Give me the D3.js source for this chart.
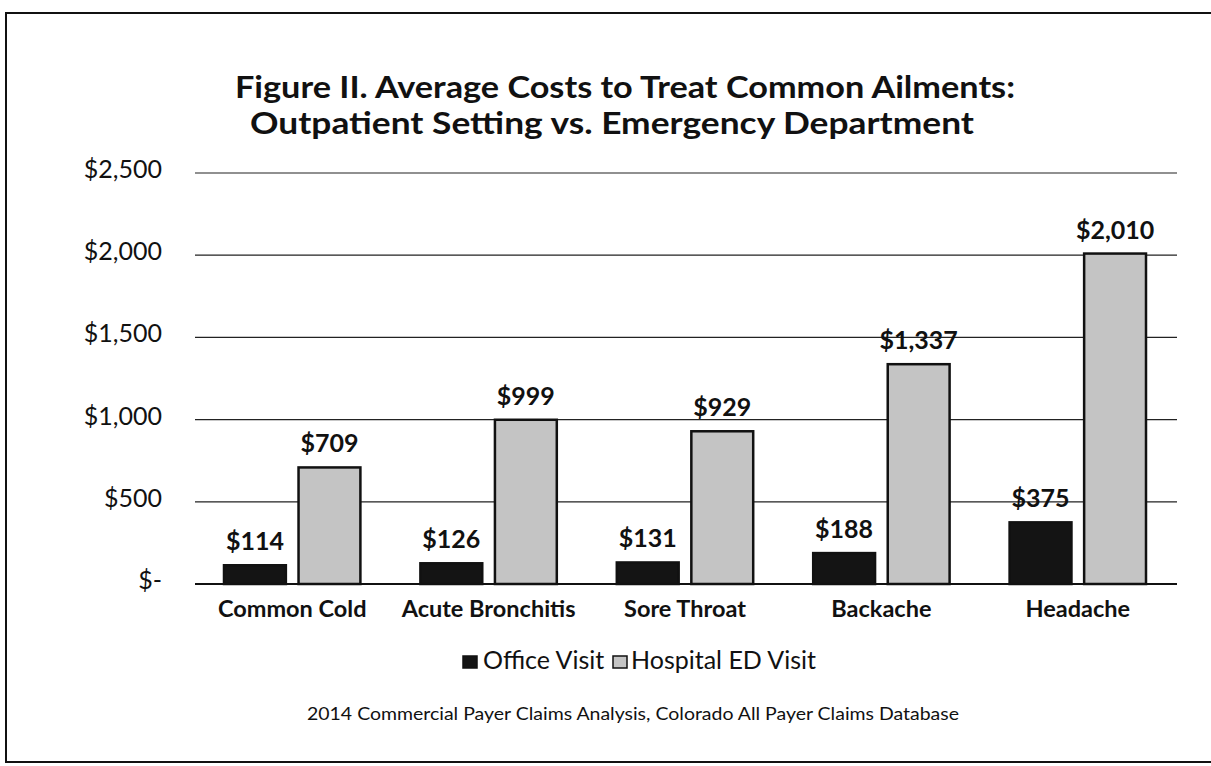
<!DOCTYPE html>
<html>
<head>
<meta charset="utf-8">
<script src="https://cdn.jsdelivr.net/npm/d3@7"></script>
<style>
  body { margin: 0; background: #fff; }
  svg { font-family: Lato, "Open Sans", sans-serif; }
</style>
</head>
<body>
<div id="chart"></div>
<script>
const categories = ['Common Cold', 'Acute Bronchitis', 'Sore Throat', 'Backache', 'Headache']
const officeVisit = [114, 126, 131, 188, 375]
const hospitalED = [709, 999, 929, 1337, 2010]
const seriesNames = ['Office Visit', 'Hospital ED Visit']
const yTicks = [0, 500, 1000, 1500, 2000, 2500]

const width = 1211
const height = 766

const rows = categories.map((c, i) => ({ cat: c, values: [officeVisit[i], hospitalED[i]] }))

const xScale = d3.scaleBand().domain(categories).range([194, 1176]).paddingInner(0).paddingOuter(0)
const xInner = d3.scaleBand().domain(seriesNames).range([30, xScale.bandwidth() - 30]).paddingInner(0.17)
const yScale = d3.scaleLinear().domain([0, 2500]).range([584, 173])

const fills = ['#141414', '#c4c4c4']

const svg = d3.select('#chart')
  .append('svg')
  .attr('width', width)
  .attr('height', height)

// border around the figure
svg.append('rect')
  .attr('x', 6).attr('y', 13)
  .attr('width', width + 10).attr('height', 749)
  .attr('fill', 'none')
  .attr('stroke', '#111')
  .attr('stroke-width', 2)

// title
const title = svg.append('text')
  .attr('text-anchor', 'middle')
  .style('font-size', '30px')
  .style('font-weight', 'bold')
  .attr('fill', '#111')
title.append('tspan').attr('x', 625).attr('y', 98)
  .attr('textLength', 780).attr('lengthAdjust', 'spacingAndGlyphs')
  .text('Figure II.  Average Costs to Treat Common Ailments:')
title.append('tspan').attr('x', 612).attr('y', 134)
  .attr('textLength', 724).attr('lengthAdjust', 'spacingAndGlyphs')
  .text('Outpatient Setting vs. Emergency Department')

// grid + y labels
svg.append('g')
  .selectAll('line')
  .data(yTicks.filter(d => d > 0))
  .enter()
  .append('line')
  .attr('x1', 195).attr('x2', 1177)
  .attr('y1', d => yScale(d)).attr('y2', d => yScale(d))
  .attr('stroke', '#222')
  .attr('stroke-width', 1.2)

svg.append('g')
  .selectAll('text')
  .data(yTicks)
  .enter()
  .append('text')
  .attr('x', 162)
  .attr('y', d => yScale(d) + 5)
  .attr('text-anchor', 'end')
  .style('font-size', '25px')
  .attr('fill', '#111')
  .text(d => d === 0 ? '$-' : '$' + d3.format(',')(d))

// bars
const groups = svg.selectAll('.grp')
  .data(rows)
  .enter()
  .append('g')
  .attr('transform', d => `translate(${xScale(d.cat)},0)`)

groups.selectAll('rect')
  .data(d => d.values.map((v, i) => ({ key: seriesNames[i], value: v, i })))
  .enter()
  .append('rect')
  .attr('x', d => xInner(d.key))
  .attr('width', xInner.bandwidth())
  .attr('y', d => yScale(d.value))
  .attr('height', d => yScale(0) - yScale(d.value))
  .attr('fill', d => fills[d.i])
  .attr('stroke', '#111')
  .attr('stroke-width', 2.5)

groups.selectAll('.val')
  .data(d => d.values.map((v, i) => ({ key: seriesNames[i], value: v })))
  .enter()
  .append('text')
  .attr('x', d => xInner(d.key) + xInner.bandwidth() / 2)
  .attr('y', d => yScale(d.value) - 15)
  .attr('text-anchor', 'middle')
  .style('font-size', '25px')
  .style('font-weight', 'bold')
  .attr('fill', '#111')
  .text(d => '$' + d3.format(',')(d.value))

// baseline axis
svg.append('g')
  .attr('transform', `translate(0,${yScale(0)})`)
  .call(d3.axisBottom(xScale).tickSize(0).tickPadding(16))
  .call(g => g.select('.domain').attr('d', 'M195,0H1177').attr('stroke', '#111').attr('stroke-width', 2))
  .call(g => g.selectAll('text')
    .style('font-family', 'Lato, sans-serif')
    .style('font-size', '23.5px')
    .style('font-weight', 'bold')
    .attr('fill', '#111'))

// legend
const legend = svg.append('g').attr('transform', 'translate(0,661)')
const legendX = [463, 613]
legend.selectAll('rect')
  .data(seriesNames)
  .enter()
  .append('rect')
  .attr('x', (d, i) => legendX[i])
  .attr('y', -5)
  .attr('width', 14).attr('height', 12)
  .attr('fill', (d, i) => fills[i])
  .attr('stroke', '#111')
  .attr('stroke-width', 1.5)
legend.selectAll('text')
  .data(seriesNames)
  .enter()
  .append('text')
  .attr('x', (d, i) => legendX[i] + (i === 0 ? 20 : 18))
  .attr('y', 8)
  .style('font-size', '25px')
  .attr('fill', '#111')
  .text(d => d)

// source
svg.append('text')
  .attr('x', 633).attr('y', 720)
  .attr('text-anchor', 'middle')
  .style('font-size', '18px')
  .attr('textLength', 652)
  .attr('lengthAdjust', 'spacingAndGlyphs')
  .attr('fill', '#111')
  .text('2014 Commercial Payer Claims Analysis, Colorado All Payer Claims Database')
</script>
</body>
</html>
